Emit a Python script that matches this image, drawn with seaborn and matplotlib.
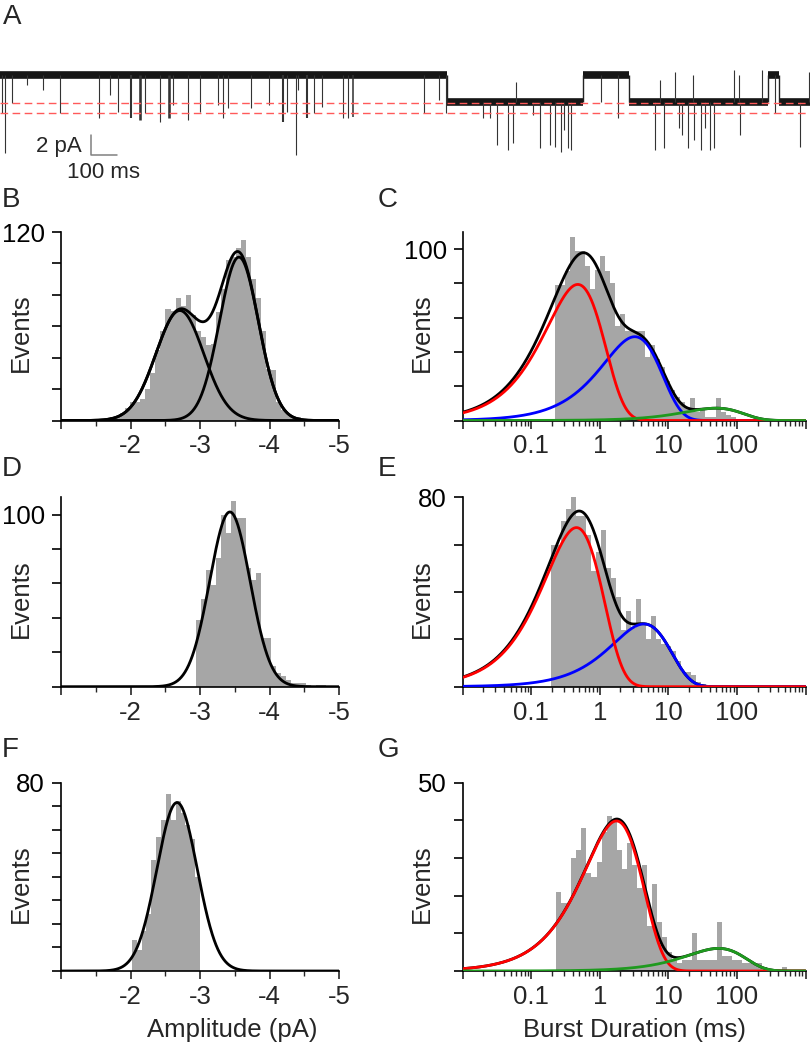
import numpy as np
import matplotlib
matplotlib.use('Agg')
import matplotlib.pyplot as plt
from matplotlib.ticker import LogLocator, NullFormatter
import seaborn as sns

# ---- panel A: single channel trace (ms, pA) ----
seg_start = [0, 1719, 2242, 2419, 2954, 2996]
seg_level = [0.0, -2.65, 0.0, -2.65, 0.0, -2.65]
trace_end = 3115
level_lines = [-2.8, -3.8]

ev_t = [6, 19, 45, 105, 167, 231, 381, 423, 454, 504, 538, 558, 615, 650, 665,
        723, 769, 838, 858, 877, 965, 1035, 1088, 1104, 1138, 1146, 1181, 1208,
        1238, 1319, 1338, 1358, 1631, 1688, 1714,
        1858, 1885, 1912, 1954, 1973, 1985, 2050, 2077, 2115, 2135, 2158, 2169,
        2185, 2196, 2312, 2377, 2519, 2538, 2554, 2596, 2612, 2623, 2646, 2665,
        2669, 2696, 2712, 2731, 2746, 2823, 2842, 2846, 2931, 2981, 3077, 3112]
ev_amp = [-3.8, -7.8, -2.8, -1.0, -1.5, -3.8, -4.3, -2.0, -3.7, -4.3, -4.5, -3.8, -4.7, -4.3, -3.0,
          -4.5, -3.7, -3.0, -4.3, -3.3, -3.3, -3.0, -4.7, -3.7, -8.0, -1.5, -4.3, -3.8,
          -3.2, -4.3, -4.3, -4.2, -3.8, -2.5, -3.8,
          -4.3, -4.3, -7.0, -7.5, -6.8, -0.7, -4.0, -7.3, -7.0, -7.2, -7.7, -5.5,
          -7.3, -7.5, -2.7, -4.3, -7.5, -0.5, -7.3, 0.3, -5.3, -6.0, -7.3, 0.0,
          -6.5, -7.5, -5.3, -7.5, -7.3, 0.5, 0.0, -6.0, 0.5, -3.8, -7.2, 0.3]
ev_dur = [1, 1, 1, 1, 1, 1, 1, 1, 1, 8, 10, 1, 1, 10, 1,
          1, 1, 1, 1, 1, 1, 1, 8, 1, 1, 1, 8, 1,
          1, 1, 1, 6, 1, 1, 1,
          1, 1, 1, 1, 1, 1, 1, 1, 4, 4, 1, 1,
          4, 2, 1, 1, 1, 1, 1, 1, 1, 1, 1, 1,
          1, 1, 1, 1, 1, 1, 1, 1, 1, 1, 1, 1]

# ---- amplitude histograms (pA bins, counts) ----
B_start, B_width = -1.708, 0.0723
B_counts = [2, 3, 5, 8, 12, 12, 14, 20, 30, 45, 57, 71, 70, 78, 73, 80, 67, 57, 53, 48,
            49, 69, 84, 102, 104, 110, 115, 104, 90, 78, 57, 33, 32, 12, 7, 4, 2, 2, 1]
B_mu, B_sd, B_amp = [-2.71, -3.56], [0.345, 0.28], [70, 104]

D_start, D_width = -2.937, 0.0723
D_counts = [39, 51, 68, 59, 75, 100, 89, 108, 98, 98, 69, 62, 66, 28, 28, 12, 8, 6, 4,
            2, 2, 2, 1, 0, 1, 1, 0]
D_mu, D_sd, D_amp = [-3.43], [0.29], [101.5]

F_start, F_width = -2.02, 0.07
F_counts = [13, 9, 17, 24, 47, 57, 64, 75, 64, 72, 67, 62, 56, 40]
F_mu, F_sd, F_amp = [-2.67], [0.29], [71.5]

# ---- burst duration histograms (log10 ms bins, counts) ----
C_start, C_width = -0.658, 0.0733
C_counts = [79, 79, 87, 107, 99, 99, 90, 77, 88, 96, 87, 80, 55, 62, 52, 52, 52, 52, 37,
            44, 36, 31, 23, 18, 14, 11, 8, 13, 5, 6, 2, 2, 13, 5, 3, 2, 1]
C_tau, C_a = [3.24, 0.477, 49.8], [48.9, 79.4, 7.2]
C_col = ['blue', 'red', 'green']

E_start, E_width = -0.717, 0.0732
E_counts = [60, 60, 70, 75, 80, 72, 72, 64, 49, 57, 66, 50, 46, 38, 24, 32, 25, 37, 27,
            20, 30, 20, 18, 17, 15, 11, 6, 6, 5, 2, 1]
E_tau, E_a = [4.4, 0.456], [26.5, 67.2]
E_col = ['blue', 'red']

G_start, G_width = -0.634, 0.0732
G_counts = [21, 18, 18, 30, 32, 38, 26, 25, 29, 37, 41, 40, 32, 27, 34, 28, 22, 28, 12,
            23, 13, 9, 5, 3, 2, 3, 3, 10, 3, 3, 3, 3, 13, 4, 4, 3, 3, 2, 2, 2, 2, 1, 0,
            0, 0, 1]
G_tau, G_a = [1.75, 54.0], [39.8, 6.0]
G_col = ['red', 'green']

GRAY = '#a6a6a6'
COLORS = {'red': '#ff0000', 'blue': '#0000ff', 'green': '#1f9a1f'}
FS = 18.5

sns.set_style('ticks')
plt.rcParams['font.family'] = ['Liberation Sans', 'DejaVu Sans']
plt.rcParams['font.size'] = FS
plt.rcParams['axes.linewidth'] = 1.2

fig = plt.figure(figsize=(8.1, 10.5), dpi=100)


def style_axes(ax, ytop, ylab_val, ystep):
    sns.despine(ax=ax)
    ax.set_ylim(0, ytop)
    ticks = np.arange(0, ylab_val + 0.1, ystep)
    ax.set_yticks(ticks)
    ax.set_yticklabels(['' if t != ylab_val else f'{int(t)}' for t in ticks])
    ax.tick_params(axis='y', length=6.5, width=1.2, pad=5, labelsize=FS, colors='black')
    ax.tick_params(axis='x', which='major', length=6, width=1.2, pad=4, labelsize=FS)
    ax.tick_params(axis='x', which='minor', length=3.5, width=1.0)
    for s in ax.spines.values():
        s.set_color('black')
    ax.set_ylabel('Events', fontsize=FS)
    ax.set_xlabel('')


def amp_panel(rect, start, width, counts, mu, sd, amp, ytop, ylab_val, ystep):
    ax = fig.add_axes(rect)
    counts = np.asarray(counts, float)
    edges = start - width * np.arange(len(counts) + 1)
    centers = (edges[:-1] + edges[1:]) / 2
    sns.histplot(x=centers, weights=counts, bins=sorted(edges.tolist()), color=GRAY,
                 alpha=1, linewidth=0, edgecolor='none', ax=ax, zorder=1)
    xx = np.linspace(-1, -5, 600)
    total = np.zeros_like(xx)
    for m, s, a in zip(mu, sd, amp):
        comp = a * np.exp(-(xx - m) ** 2 / (2 * s ** 2))
        total += comp
        if len(mu) > 1:
            ax.plot(xx, comp, color='black', lw=2.0, zorder=3)
    ax.plot(xx, total, color='black', lw=2.0, zorder=3)
    ax.set_xlim(-1, -5)
    ax.set_xticks([-1, -2, -3, -4, -5])
    ax.set_xticklabels(['', '-2', '-3', '-4', '-5'])
    ax.set_xticks([-1.5, -2.5, -3.5, -4.5], minor=True)
    style_axes(ax, ytop, ylab_val, ystep)
    ax.yaxis.set_label_coords(-0.10, 0.465)
    return ax


def dur_panel(rect, start, width, counts, tau, a, cols, ytop, ylab_val, ystep):
    ax = fig.add_axes(rect)
    counts = np.asarray(counts, float)
    ledges = start + width * np.arange(len(counts) + 1)
    centers = 10 ** ((ledges[:-1] + ledges[1:]) / 2)
    sns.histplot(x=centers, weights=counts, bins=ledges.tolist(), log_scale=True,
                 color=GRAY, alpha=1, linewidth=0, edgecolor='none', ax=ax, zorder=1)
    tt = np.logspace(-2, 3, 800)
    comps = [ai * (tt / ti) * np.exp(1 - tt / ti) for ti, ai in zip(tau, a)]
    ax.plot(tt, np.sum(comps, axis=0), color='black', lw=2.0, zorder=3)
    for comp, c in zip(comps, cols):
        ax.plot(tt, comp, color=COLORS[c], lw=2.0, zorder=4)
    ax.set_xlim(0.01, 1000)
    ax.set_xticks([0.01, 0.1, 1, 10, 100, 1000])
    ax.set_xticklabels(['', '0.1', '1', '10', '100', ''])
    ax.xaxis.set_minor_locator(LogLocator(base=10, subs=np.arange(2, 10), numticks=20))
    ax.xaxis.set_minor_formatter(NullFormatter())
    style_axes(ax, ytop, ylab_val, ystep)
    ax.yaxis.set_label_coords(-0.085, 0.465)
    return ax


H = 1050.0
W = 810.0
left_l, width_l = 61 / W, 278 / W
left_r, width_r = 462.7 / W, 342.8 / W
rows = [(420.5, 188.5), (686.7, 189.4), (971.0, 188.5)]
rb = [(1 - b / H, h / H) for b, h in rows]

axB = amp_panel([left_l, rb[0][0], width_l, rb[0][1]], B_start, B_width, B_counts,
                B_mu, B_sd, B_amp, 120, 120, 20)
axC = dur_panel([left_r, rb[0][0], width_r, rb[0][1]], C_start, C_width, C_counts,
                C_tau, C_a, C_col, 110, 100, 20)
axD = amp_panel([left_l, rb[1][0], width_l, rb[1][1]], D_start, D_width, D_counts,
                D_mu, D_sd, D_amp, 110, 100, 20)
axE = dur_panel([left_r, rb[1][0], width_r, rb[1][1]], E_start, E_width, E_counts,
                E_tau, E_a, E_col, 80, 80, 20)
axF = amp_panel([left_l, rb[2][0], width_l, rb[2][1]], F_start, F_width, F_counts,
                F_mu, F_sd, F_amp, 80, 80, 10)
axG = dur_panel([left_r, rb[2][0], width_r, rb[2][1]], G_start, G_width, G_counts,
                G_tau, G_a, G_col, 50, 50, 10)

axF.set_xlabel('Amplitude (pA)', fontsize=FS)
axF.xaxis.set_label_coords(0.617, -0.25)
axG.set_xlabel('Burst Duration (ms)', fontsize=FS)
axG.xaxis.set_label_coords(0.5, -0.25)

# ---- trace ----
ax0 = fig.add_axes([0, 1 - 180 / H, 1, 130 / H])
ax0.axis('off')
ax0.set_xlim(0, trace_end)
ax0.set_ylim(-10.47, 2.53)
seg_end = seg_start[1:] + [trace_end]
ax0.hlines(seg_level, seg_start, seg_end, colors='#161616', linewidths=5.5, zorder=3)
ax0.vlines(seg_start[1:], seg_level[:-1], seg_level[1:], colors='#222222',
           linewidths=1.0, zorder=3)
idx = np.searchsorted(seg_start, ev_t, side='right') - 1
base = np.asarray(seg_level)[idx]
lws = [max(0.8, d * 0.26 / 1.389) for d in ev_dur]
ax0.vlines(ev_t, base, ev_amp, colors='#333333', linewidths=lws, zorder=4)
for yl in level_lines:
    ax0.axhline(yl, color='#ff5a5a', lw=1.0, ls=(0, (5.5, 3.2)), zorder=5)

# scale bar 2 pA / 100 ms
ax0.plot([349, 349, 449], [-6.0, -8.0, -8.0], color='#808080', lw=1.1, zorder=5)
ax0.text(315, -7.64, '2 pA', ha='right', va='baseline', fontsize=16)
ax0.text(399, -10.25, '100 ms', ha='center', va='baseline', fontsize=16)

# panel letters
for lab, x, y in [('A', 3, 24), ('B', 2, 207), ('C', 378, 207), ('D', 2, 476),
                  ('E', 378, 476), ('F', 2, 757), ('G', 378, 757)]:
    fig.text(x / W, 1 - y / H, lab, fontsize=20, ha='left', va='baseline')

fig.savefig('out.png', dpi=100)
